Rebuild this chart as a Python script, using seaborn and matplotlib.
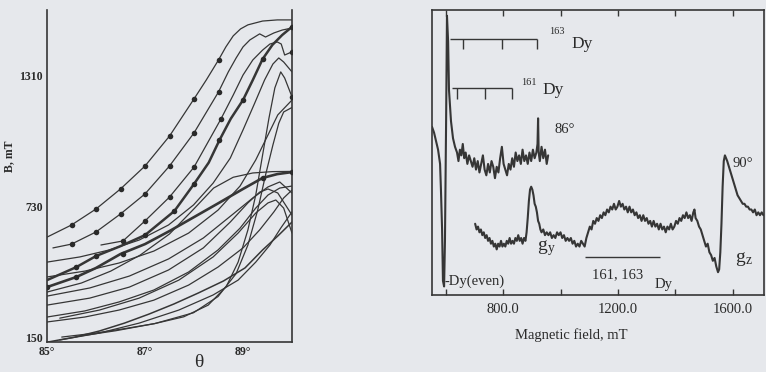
import numpy as np
import pandas as pd
import matplotlib.pyplot as plt
import seaborn as sns

# ==========================================
# Style
# ==========================================
sns.set_theme(style="white")
plt.rcParams["font.family"] = ["Liberation Serif", "DejaVu Serif"]
plt.rcParams["mathtext.fontset"] = "stix"

BG = "#e6e8ec"
INK = "#363636"

# ==========================================
# Left panel: B (mT) vs theta (deg)
# ==========================================
A_theta = [85, 85.5, 86, 86.5, 87, 87.5, 88, 88.25, 88.5, 88.65, 88.8, 88.95, 89.1, 89.4, 89.7, 90]
A_B = [594, 648, 719, 808, 910, 1043, 1208, 1292, 1381, 1439, 1488, 1519, 1537, 1554, 1559, 1559]
A_dot_theta = [85.5, 86, 86.5, 87, 87.5, 88, 88.5]
A_dot_B = [648, 719, 808, 910, 1043, 1208, 1381]

B_theta = [85.12, 85.5, 86, 86.5, 87, 87.5, 88, 88.5, 88.7, 88.86, 89.0, 89.14, 89.34, 89.46, 89.63, 89.8, 90]
B_B = [546, 563, 617, 697, 786, 910, 1057, 1239, 1328, 1390, 1439, 1470, 1497, 1483, 1501, 1514, 1523]
B_dot_theta = [85.5, 86, 86.5, 87, 87.5, 88, 88.5]
B_dot_B = [563, 617, 697, 786, 910, 1057, 1239]

C_theta = [85, 85.6, 86, 86.5, 87, 87.6, 88, 88.3, 88.52, 88.75, 89, 89.2, 89.4, 89.6, 89.8, 90]
C_B = [403, 461, 510, 554, 603, 710, 830, 925, 1025, 1120, 1203, 1292, 1385, 1448, 1492, 1528]
C_dot_theta = [85.6, 86, 87, 87.6, 88, 88.52, 89, 89.4, 90]
C_dot_B = [461, 510, 603, 710, 830, 1025, 1203, 1385, 1528]

D_theta = [86.1, 86.55, 87, 87.5, 88, 88.55, 88.8, 89.0, 89.2, 89.4, 89.55, 89.7, 89.78, 89.85, 90]
D_B = [559, 577, 666, 772, 905, 1119, 1225, 1314, 1381, 1425, 1452, 1461, 1452, 1403, 1417]
D_dot_theta = [86.55, 87, 87.5, 88, 88.55, 90]
D_dot_B = [577, 666, 772, 905, 1119, 1417]

E_theta = [85, 85.6, 86, 86.5, 87, 87.5, 88, 88.5, 89, 89.4, 89.7, 90]
E_B = [372, 417, 457, 519, 563, 621, 683, 745, 808, 857, 874, 883]
E_dot_theta = [85, 85.6, 86.55, 89.4, 90]
E_dot_B = [372, 417, 519, 857, 883]

F_theta = [85, 85.7, 86.3, 86.9, 87.5, 88, 88.4, 88.8, 89.2, 89.6, 90]
F_B = [350, 390, 443, 514, 608, 720, 812, 860, 879, 885, 886]

G1_theta = [85, 85.87, 86.68, 87.48, 88.19, 88.8, 89.2, 89.51, 89.75, 90]
G1_B = [332, 368, 421, 497, 590, 697, 768, 817, 839, 790]
G2_theta = [85, 85.87, 86.68, 87.48, 88.19, 88.74, 89.1, 89.34, 89.51, 89.71, 90]
G2_B = [292, 323, 372, 448, 546, 661, 746, 794, 808, 790, 692]
G3_theta = [85.26, 86.07, 86.88, 87.69, 88.39, 88.9, 89.26, 89.51, 89.67, 89.83, 90]
G3_B = [234, 270, 323, 403, 506, 612, 701, 746, 759, 723, 612]

L1_theta = [85.02, 85.57, 86.07, 86.58, 87.08, 87.59, 88.09, 88.6, 89.04, 89.4, 89.71, 90]
L1_B = [128, 150, 177, 212, 252, 297, 346, 399, 457, 537, 599, 661]
L2_theta = [85.26, 86.07, 86.88, 87.69, 88.39, 88.9, 89.26, 89.55, 89.77, 90]
L2_B = [137, 168, 212, 270, 337, 403, 483, 559, 634, 706]
L3_theta = [85, 85.77, 86.47, 87.18, 87.89, 88.49, 89.0, 89.34, 89.63, 89.83, 90]
L3_B = [217, 239, 270, 314, 381, 461, 546, 626, 706, 768, 803]
L4_theta = [85, 85.77, 86.47, 87.18, 87.89, 88.49, 88.94, 89.26, 89.51, 89.75, 90]
L4_B = [239, 266, 306, 359, 439, 537, 634, 723, 781, 812, 821]
L5_theta = [85, 85.77, 86.47, 87.18, 87.89, 88.49, 88.94, 89.26, 89.51, 89.71, 90]
L5_B = [417, 443, 479, 532, 612, 714, 821, 937, 1048, 1137, 1203]

S1_theta = [85.3, 86.0, 86.6, 87.2, 87.79, 88.29, 88.66, 88.9, 89.1, 89.26, 89.4, 89.53, 89.65, 89.77, 89.85, 90]
S1_B = [150, 168, 188, 210, 240, 292, 375, 483, 626, 781, 959, 1123, 1257, 1328, 1301, 1217]
S1_dot_theta = [90]
S1_dot_B = [1217]
S2_theta = [85.6, 86.4, 87.2, 87.99, 88.49, 88.86, 89.1, 89.3, 89.46, 89.61, 89.73, 89.83, 90]
S2_B = [152, 178, 210, 258, 330, 432, 559, 714, 870, 1003, 1100, 1150, 1170]

K_theta = [85, 85.67, 86.27, 86.88, 87.48, 87.99, 88.39, 88.74, 89.0, 89.24, 89.44, 89.61, 89.73, 89.83, 90]
K_B = [483, 506, 537, 581, 648, 737, 834, 945, 1070, 1190, 1292, 1363, 1390, 1372, 1328]

B_ticks = [150, 730, 1310]
theta_ticks = [85, 87, 89]
theta_labels = ["85°", "87°", "89°"]

# ==========================================
# Right panel: EPR spectra
# ==========================================
up_field = [553, 560, 567, 574, 581, 584, 588, 591, 595, 598,
            602, 605, 609, 612, 619, 626, 633, 640, 645, 650,
            655, 660, 665, 670, 676, 682, 688, 694, 700, 706,
            712, 718, 724, 730, 736, 742, 748, 754, 760, 766,
            772, 778, 784, 790, 796, 802, 808, 814, 820, 826,
            832, 838, 844, 850, 856, 862, 868, 874, 880, 886,
            892, 898, 904, 910, 916, 920, 922, 924, 928, 934,
            940, 946, 952, 957]
up_int = [59, 57, 54, 51, 46, 37, 23, 5, 3, 19,
          61, 98, 89, 72, 61, 55, 52, 50, 47, 51,
          49, 53, 48, 50, 46, 49, 47, 45, 48, 44,
          47, 43, 46, 49, 44, 42, 46, 43, 47, 45,
          41, 45, 43, 48, 52, 46, 44, 42, 46, 44,
          48, 45, 50, 47, 49, 46, 51, 47, 49, 46,
          50, 47, 51, 48, 50, 53, 62, 50, 47, 52,
          48, 51, 46, 49]

lo_field = [703, 708, 713, 718, 723, 728, 733, 738, 743, 748,
            753, 758, 763, 768, 773, 778, 783, 788, 793, 798,
            803, 808, 813, 818, 823, 828, 833, 838, 843, 848,
            853, 858, 863, 868, 873, 878, 882, 886, 890, 894,
            898, 902, 906, 910, 914, 918, 922, 926, 930, 934,
            940, 946, 952, 958, 964, 970, 976, 982, 988, 994,
            1000, 1006, 1012, 1018, 1024, 1030, 1036, 1042, 1048, 1054,
            1060, 1066, 1072, 1078, 1084, 1090, 1096, 1102, 1108, 1114,
            1120, 1126, 1132, 1138, 1144, 1150, 1156, 1162, 1168, 1174,
            1180, 1186, 1192, 1198, 1204, 1210, 1216, 1222, 1228, 1234,
            1240, 1246, 1252, 1258, 1264, 1270, 1276, 1282, 1288, 1294,
            1300, 1306, 1312, 1318, 1324, 1330, 1336, 1342, 1348, 1354,
            1360, 1366, 1372, 1378, 1384, 1390, 1396, 1402, 1408, 1414,
            1420, 1426, 1432, 1438, 1444, 1450, 1456, 1462, 1466, 1470,
            1476, 1482, 1488, 1494, 1500, 1506, 1512, 1518, 1524, 1530,
            1536, 1542, 1548, 1552, 1556, 1560, 1564, 1568, 1572, 1576,
            1580, 1586, 1592, 1598, 1604, 1610, 1616, 1622, 1628, 1634,
            1640, 1646, 1652, 1658, 1664, 1670, 1676, 1682, 1688, 1694,
            1700, 1706]
lo_int = [25, 23, 24, 22, 23, 21, 22, 20, 21, 19,
          20, 18, 19, 17, 18, 16, 18, 17, 19, 17,
          18, 17, 19, 18, 20, 18, 19, 18, 20, 19,
          21, 19, 20, 18, 20, 19, 22, 27, 33, 37,
          38, 37, 35, 32, 31, 29, 26, 25, 23, 22,
          23, 21, 22, 21, 22, 20, 21, 20, 22, 21,
          22, 20, 21, 19, 20, 19, 20, 18, 19, 17,
          18, 17, 19, 18, 17, 20, 22, 24, 23, 26,
          25, 27, 26, 28, 27, 29, 28, 30, 29, 31,
          30, 32, 30, 31, 33, 31, 32, 30, 31, 29,
          31, 29, 30, 28, 29, 27, 28, 26, 28, 26,
          27, 25, 26, 24, 26, 24, 25, 23, 25, 23,
          24, 22, 24, 23, 25, 23, 24, 26, 25, 27,
          26, 28, 27, 29, 27, 28, 26, 29, 30, 27,
          26, 24, 23, 21, 19, 17, 18, 15, 14, 12,
          13, 10, 8, 9, 15, 25, 38, 47, 49, 48,
          47, 45, 43, 41, 39, 37, 35, 34, 33, 32,
          32, 31, 31, 30, 30, 29, 30, 28, 29, 28,
          29, 28]

# hyperfine stick diagrams
dy163_span = [616, 917]
dy163_ticks = [660, 795, 917]
dy163_level = 90
dy161_span = [624, 830]
dy161_ticks = [641, 737, 830]
dy161_level = 72.5
tick_drop = 3.8

# ==========================================
# Figure
# ==========================================
fig = plt.figure(figsize=(7.66, 3.72), dpi=100, facecolor=BG)
ax1 = fig.add_axes([0.0614, 0.0806, 0.3198, 0.8925], facecolor=BG)
ax2 = fig.add_axes([0.564, 0.207, 0.4334, 0.766], facecolor=BG)

curves = [
    (A_theta, A_B, 0.9), (B_theta, B_B, 0.9), (C_theta, C_B, 1.8),
    (D_theta, D_B, 0.9), (E_theta, E_B, 1.9), (F_theta, F_B, 0.9),
    (G1_theta, G1_B, 0.9), (G2_theta, G2_B, 0.9), (G3_theta, G3_B, 0.9),
    (L1_theta, L1_B, 1.1), (L2_theta, L2_B, 0.9), (L3_theta, L3_B, 0.9),
    (L4_theta, L4_B, 0.9), (L5_theta, L5_B, 0.9), (S1_theta, S1_B, 0.9),
    (S2_theta, S2_B, 0.9), (K_theta, K_B, 0.9),
]
for th, bb, lw in curves:
    sns.lineplot(x=th, y=bb, ax=ax1, color=INK, lw=lw, sort=False)

dots = [
    (A_dot_theta, A_dot_B), (B_dot_theta, B_dot_B), (C_dot_theta, C_dot_B),
    (D_dot_theta, D_dot_B), (E_dot_theta, E_dot_B), (S1_dot_theta, S1_dot_B),
]
for th, bb in dots:
    sns.scatterplot(x=th, y=bb, ax=ax1, color="#2a2a2a", s=16, linewidth=0, zorder=4)

ax1.set_xlim(85, 90)
ax1.set_ylim(128, 1603)
ax1.set_xticks(theta_ticks)
ax1.set_xticklabels(theta_labels)
ax1.set_yticks(B_ticks)
ax1.tick_params(direction="in", length=4, width=1.0, colors=INK, pad=3)
for lab in ax1.get_xticklabels() + ax1.get_yticklabels():
    lab.set_fontsize(8.5)
    lab.set_fontweight("bold")
    lab.set_color("#2a2a2a")
ax1.spines["top"].set_visible(False)
for s in ["left", "right", "bottom"]:
    ax1.spines[s].set_color(INK)
    ax1.spines[s].set_linewidth(1.2)
ax1.set_ylabel("B, mT", fontsize=8.5, fontweight="bold", color="#2a2a2a")
ax1.yaxis.set_label_coords(-0.13, 0.56)
ax1.set_xlabel("θ", fontsize=14, color="#2a2a2a")
ax1.xaxis.set_label_coords(0.62, -0.035)

# spectra
sns.lineplot(x=up_field, y=up_int, ax=ax2, color=INK, lw=1.5, sort=False)
sns.lineplot(x=lo_field, y=lo_int, ax=ax2, color=INK, lw=1.5, sort=False)

ax2.hlines(dy163_level, dy163_span[0], dy163_span[1], color=INK, lw=1.0)
ax2.vlines(dy163_ticks, dy163_level - tick_drop, dy163_level, color=INK, lw=1.0)
ax2.hlines(dy161_level, dy161_span[0], dy161_span[1], color=INK, lw=1.0)
ax2.vlines(dy161_ticks, dy161_level - tick_drop, dy161_level, color=INK, lw=1.0)
ax2.hlines(13.3, 1085, 1346, color=INK, lw=1.0)

txt = dict(color="#2a2a2a")
ax2.text(960, 92.5, "163", fontsize=7.5, ha="left", va="center", **txt)
ax2.text(1038, 88, "Dy", fontsize=12.5, ha="left", va="center", **txt)
ax2.text(862, 74.5, "161", fontsize=7.5, ha="left", va="center", **txt)
ax2.text(937, 72, "Dy", fontsize=12.5, ha="left", va="center", **txt)
ax2.text(978, 58, "86°", fontsize=10.5, ha="left", va="center", **txt)
ax2.text(1600, 46, "90°", fontsize=10.5, ha="left", va="center", **txt)
ax2.text(918, 16.5, "g$_\\mathregular{y}$", fontsize=14, ha="left", va="center", **txt)
ax2.text(1607, 12.5, "g$_\\mathregular{z}$", fontsize=14, ha="left", va="center", **txt)
ax2.text(598, 4.8, "-Dy(even)", fontsize=10.5, ha="left", va="center", **txt)
ax2.text(1108, 7.2, "161, 163", fontsize=10.5, ha="left", va="center", **txt)
ax2.text(1328, 3.8, "Dy", fontsize=10.5, ha="left", va="center", **txt)

ax2.set_xlim(553, 1708)
ax2.set_ylim(0, 100)
ax2.set_xticks([600, 800, 1000, 1200, 1400, 1600])
ax2.set_xticklabels(["", "800.0", "", "1200.0", "", "1600.0"], fontsize=10.5, color="#2a2a2a")
ax2.set_yticks([])
ax2.tick_params(axis="x", direction="in", length=4, width=1.0, colors=INK, pad=6,
                top=True, bottom=True)
for lab in ax2.get_xticklabels():
    lab.set_color("#2a2a2a")
for s in ax2.spines.values():
    s.set_color(INK)
    s.set_linewidth(1.2)
ax2.set_xlabel("Magnetic field, mT", fontsize=10.5, color="#2a2a2a")
ax2.xaxis.set_label_coords(0.42, -0.115)

fig.savefig("out.png", dpi=100, facecolor=BG)
